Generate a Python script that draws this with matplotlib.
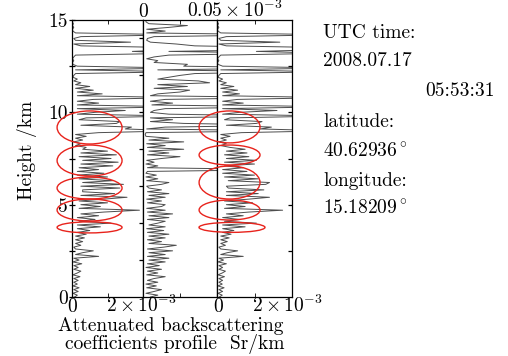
import numpy as np
import matplotlib.pyplot as plt
from matplotlib.patches import Ellipse

plt.rcParams['font.family'] = ['cmr10', 'DejaVu Serif']
plt.rcParams['mathtext.fontset'] = 'cm'
plt.rcParams['axes.unicode_minus'] = False
plt.rcParams['axes.formatter.use_mathtext'] = True

# height grid in km (0.1 km steps)
heights = np.round(np.arange(0, 15.01, 0.1), 1)

# attenuated backscatter, units of 1e-3 Sr/km (values > 4 run off the panel)
left_profile = [
    0.15, 0.3, 0.05, 0.35, 0.1, 0.4, 0.05, 0.3, 0.1, 0.35,
    0.1, 0.45, 0.05, 0.3, 0.5, 0.1, 0.35, 0.1, 0.55, 0.05,
    0.4, 0.1, 1.5, 0.2, 0.6, 1.2, 0.2, 0.1, 0.5, 0.2,
    0.6, 0.2, 0.7, 0.2, 0.8, 0.3, 1.0, 0.3, 1.6, 0.3,
    2.2, 0.4, 1.3, 0.3, 1.5, 0.5, 1.8, 3.8, 0.4, 1.6,
    0.5, 2.0, 0.4, 1.8, 3.1, 0.5, 2.4, 0.6, 0.6, 2.7,
    0.5, 2.9, 0.6, 2.3, 0.4, 2.0, 0.3, 1.8, 0.3, 1.5,
    0.4, 2.3, 0.5, 2.6, 0.6, 2.2, 0.4, 2.5, 0.5, 2.0,
    0.6, 0.8, 0.2, 0.5, 0.1, 0.6, 0.2, 0.8, 0.2, 1.5,
    6.0, 3.0, 3.35, 0.5, 2.5, 2.7, 0.4, 0.8, 6.0, 0.3,
    1.3, 3.0, 0.3, 6.0, 0.3, 1.5, 0.3, 1.2, 6.0, 0.3,
    1.7, 0.3, 1.2, 0.2, 1.0, 0.2, 0.5, 0.1, 0.3, 0.05,
    0.1, 0.2, 6.0, 0.2, 6.0, 0.3, 0.05, 0.03, 0.1, 0.03,
    0.1, 0.2, 6.0, 3.4, 6.0, 6.0, 0.5, 0.1, 3.3, 0.2,
    0.1, 0.5, 6.0, 0.2, 0.05, 0.03, 0.1, 0.03, 0.08, 0.02,
    0.04,
]

middle_profile = [
    0.01, 0.02, 0.004, 0.015, 0.025, 0.005, 0.018, 0.004, 0.02, 0.006,
    0.015, 0.03, 0.005, 0.02, 0.006, 0.025, 0.004, 0.022, 0.006, 0.03,
    0.008, 0.035, 0.006, 0.03, 0.008, 0.04, 0.006, 0.028, 0.045, 0.008,
    0.025, 0.006, 0.03, 0.008, 0.035, 0.006, 0.028, 0.005, 0.03, 0.008,
    0.02, 0.03, 0.006, 0.035, 0.008, 0.04, 0.006, 0.03, 0.005, 0.025,
    0.03, 0.006, 0.025, 0.005, 0.03, 0.008, 0.035, 0.006, 0.025, 0.008,
    0.005, 0.025, 0.035, 0.005, 0.02, 0.004, 0.018, 0.004, 0.006, 0.2,
    0.006, 0.02, 0.004, 0.015, 0.005, 0.025, 0.05, 0.006, 0.035, 0.008,
    0.055, 0.006, 0.03, 0.005, 0.055, 0.008, 0.035, 0.004, 0.003, 0.004,
    0.2, 0.005, 0.03, 0.2, 0.055, 0.01, 0.04, 0.01, 0.2, 0.035,
    0.01, 0.015, 0.03, 0.2, 0.012, 0.04, 0.01, 0.03, 0.2, 0.01,
    0.02, 0.05, 0.063, 0.015, 0.06, 0.02, 0.09, 0.075, 0.02, 0.035,
    0.05, 0.07, 0.2, 0.02, 0.2, 0.055, 0.06, 0.015, 0.02, 0.005,
    0.015, 0.035, 0.2, 0.035, 0.2, 0.2, 0.07, 0.045, 0.01, 0.005,
    0.006, 0.015, 0.2, 0.005, 0.03, 0.005, 0.035, 0.06, 0.008, 0.004,
    0.004,
]

right_profile = [
    0.12, 0.28, 0.05, 0.3, 0.1, 0.38, 0.05, 0.28, 0.1, 0.3,
    0.1, 0.4, 0.05, 0.28, 0.45, 0.1, 0.3, 0.1, 0.5, 0.05,
    0.35, 0.1, 1.4, 0.2, 0.55, 1.1, 0.2, 0.1, 0.45, 0.2,
    0.55, 0.2, 0.65, 0.2, 0.75, 0.3, 0.9, 0.3, 1.5, 0.3,
    2.1, 0.4, 1.2, 0.3, 1.4, 0.5, 1.7, 3.5, 0.4, 1.5,
    0.5, 1.9, 0.4, 1.7, 2.8, 0.5, 2.2, 0.5, 2.5, 0.6,
    0.5, 2.6, 2.8, 0.6, 2.2, 0.4, 2.0, 0.3, 1.6, 0.3,
    1.4, 0.4, 2.0, 0.4, 2.1, 0.5, 1.7, 0.4, 1.6, 0.5,
    1.5, 0.7, 0.2, 0.5, 0.1, 0.5, 0.2, 0.7, 0.2, 1.3,
    6.0, 2.3, 2.9, 0.5, 2.1, 2.4, 0.4, 0.7, 6.0, 0.3,
    1.2, 3.2, 0.3, 6.0, 0.3, 1.4, 0.3, 1.1, 6.0, 0.3,
    1.2, 0.3, 1.1, 0.2, 0.9, 0.2, 0.5, 0.1, 0.3, 0.05,
    0.1, 0.2, 6.0, 0.2, 6.0, 0.3, 0.05, 0.03, 0.1, 0.03,
    0.1, 0.2, 6.0, 2.1, 6.0, 6.0, 0.5, 0.1, 3.35, 0.2,
    0.1, 0.5, 6.0, 0.2, 0.05, 0.03, 0.1, 0.03, 0.08, 0.02,
    0.04,
]

# red ellipses marking cloud layers: (centre value, centre height, width, height)
left_marks = [(0.99, 9.18, 3.66, 1.79), (0.99, 7.39, 3.66, 1.68),
              (0.99, 5.90, 3.66, 1.19), (0.99, 4.71, 3.66, 1.19),
              (0.99, 3.77, 3.66, 0.60)]
right_marks = [(0.67, 9.21, 3.25, 1.73), (0.67, 7.69, 3.25, 1.08),
               (0.67, 6.20, 3.25, 1.79), (0.67, 4.71, 3.25, 1.08),
               (0.80, 3.77, 3.52, 0.54)]

info_lines = ['UTC time:', '2008.07.17', 'latitude:', r'40.62936$^\circ$',
              'longitude:', r'15.18209$^\circ$']

W, H = 508, 356
fig = plt.figure(figsize=(W / 100, H / 100), dpi=100)


def rect(x0, x1, y0=20, y1=297):
    return [x0 / W, 1 - y1 / H, (x1 - x0) / W, (y1 - y0) / H]


def fig_text(px, py, s, **kw):
    fig.text(px / W, 1 - py / H, s, fontsize=fs, **kw)


ax1 = fig.add_axes(rect(72, 143))
ax2 = fig.add_axes(rect(143, 217))
ax3 = fig.add_axes(rect(217, 292))

for ax, prof, xmax in [(ax1, left_profile, 4.0), (ax2, middle_profile, 0.1),
                       (ax3, right_profile, 4.0)]:
    ax.plot(prof, heights, color='0.3', lw=0.7)
    ax.set_xlim(0, xmax)
    ax.set_ylim(0, 15)
    ax.set_xticks([xmax / 2])
    ax.set_xticklabels([])
    ax.tick_params(axis='x', direction='in', length=3, top=True, bottom=True,
                   width=0.6)
    for s in ax.spines.values():
        s.set_linewidth(0.9)

fs = 14
ax1.set_yticks([0, 2.5, 5, 7.5, 10, 12.5, 15])
ax1.set_yticklabels(['0', '', '5', '', '10', '', '15'], fontsize=fs)
ax1.tick_params(axis='y', direction='inout', length=4, width=0.9, pad=1)

ax2.set_yticks([2, 4, 6, 8, 10, 12, 14])
ax2.set_yticklabels([])
ax2.tick_params(axis='y', direction='out', length=3, width=0.9)

ax3.set_yticks([2.5, 5, 7.5, 10, 12.5])
ax3.set_yticklabels([])
ax3.tick_params(axis='y', direction='in', length=3, width=0.9, right=True,
                left=False)

for ax, marks in [(ax1, left_marks), (ax3, right_marks)]:
    for cx, cy, w, h in marks:
        e = Ellipse((cx, cy), w, h, fill=False, edgecolor='#e8231c', lw=1.0,
                    clip_on=False, zorder=5)
        ax.add_patch(e)

# axis value labels
fig_text(72, 312, '0', ha='center', va='baseline')
fig_text(106, 312, r'$2\times10^{-3}$', ha='left', va='baseline')
fig_text(218, 312, '0', ha='center', va='baseline')
fig_text(252, 312, r'$2\times10^{-3}$', ha='left', va='baseline')
fig_text(143, 17, '0', ha='center', va='baseline')
fig_text(187, 17, r'$0.05\times10^{-3}$', ha='left', va='baseline')

fig_text(27, 150, 'Height /km', rotation=90, ha='center', va='center')
fig_text(171, 331, 'Attenuated backscattering', ha='center', va='baseline')
fig_text(175, 349, 'coefficients profile  Sr/km', ha='center', va='baseline')

info_y = [33, 61, 122, 152, 181, 209]
for txt, y in zip(info_lines, info_y):
    fig_text(323, y, txt, ha='left', va='center')
fig_text(495, 91, '05:53:31', ha='right', va='center')

fig.savefig('out.png', dpi=100)
